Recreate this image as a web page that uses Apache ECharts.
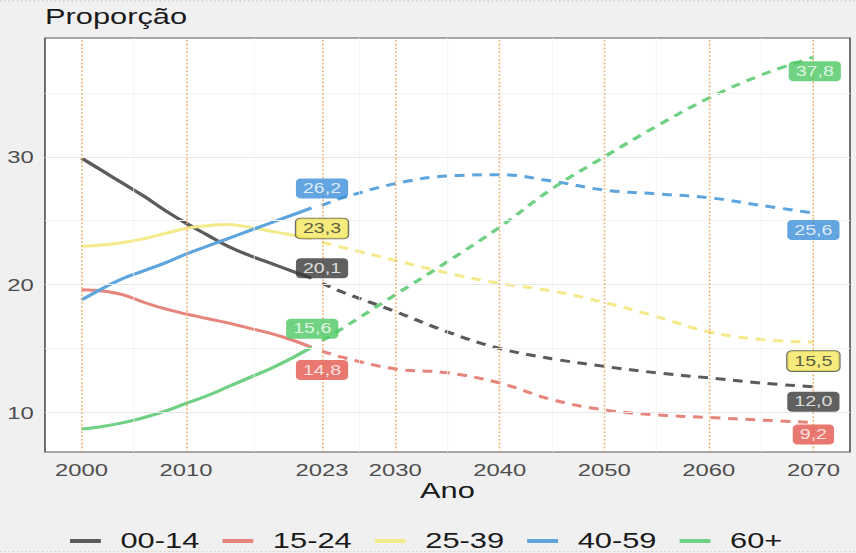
<!DOCTYPE html>
<html>
<head>
<meta charset="UTF-8">
<title>Proporção por grupo etário</title>
<script type="text/javascript" src="https://cdn.jsdelivr.net/npm/echarts@6/dist/echarts.min.js"></script>
<style>
html, body { margin:0; padding:0; background:#f0f0f0; overflow:hidden; }
#box { width:611px; height:553px; transform:scaleX(1.401); transform-origin:0 0; }
</style>
</head>
<body>
<div id="box"></div>
<script type="text/javascript">
// grupos etarios e anos
var grupos = ['00-14', '15-24', '25-39', '40-59', '60+'];
var anosHist = [2000, 2002, 2004, 2006, 2008, 2010, 2012, 2014, 2016, 2018, 2020, 2022];
var anosProj = [2023, 2025, 2030, 2035, 2040, 2045, 2050, 2055, 2060, 2065, 2070];

// valores observados (%)
var hist0014 = [29.9, 28.9, 27.9, 26.9, 25.8, 24.8, 23.9, 23.0, 22.3, 21.7, 21.1, 20.5];
var hist1524 = [19.6, 19.5, 19.2, 18.6, 18.1, 17.7, 17.35, 17.0, 16.6, 16.2, 15.7, 15.1];
var hist2539 = [23.0, 23.1, 23.3, 23.6, 24.0, 24.4, 24.6, 24.7, 24.5, 24.2, 23.9, 23.6];
var hist4059 = [18.8, 19.7, 20.5, 21.1, 21.7, 22.4, 23.0, 23.6, 24.2, 24.8, 25.4, 26.0];
var hist60 = [8.7, 8.9, 9.2, 9.6, 10.1, 10.7, 11.3, 12.0, 12.7, 13.4, 14.2, 15.1];

// projecoes (%)
var proj0014 = [20.1, 19.4, 17.9, 16.3, 15.0, 14.2, 13.6, 13.1, 12.7, 12.3, 12.0];
var proj1524 = [14.8, 14.3, 13.4, 13.1, 12.3, 11.0, 10.2, 9.8, 9.6, 9.4, 9.2];
var proj2539 = [23.3, 22.9, 21.9, 20.9, 20.1, 19.5, 18.6, 17.5, 16.3, 15.7, 15.5];
var proj4059 = [26.2, 26.8, 27.9, 28.5, 28.6, 28.1, 27.4, 27.1, 26.8, 26.2, 25.6];
var proj60 = [15.6, 16.6, 19.2, 21.8, 24.5, 27.5, 30.0, 32.4, 34.6, 36.4, 37.8];

// ticks
var xBreaks = [2000, 2010, 2023, 2030, 2040, 2050, 2060, 2070];
var yBreaks = [10, 20, 30];
var yMinor = [15, 25, 35];

var hist = [hist0014, hist1524, hist2539, hist4059, hist60];
var proj = [proj0014, proj1524, proj2539, proj4059, proj60];

var corLinha = ['#5b5b5b', '#e5857c', '#f4e98b', '#5ea5dd', '#70d184'];
var corCaixa = ['#383838', '#e4574c', '#f4e65c', '#3b8fd9', '#4cc862'];
var corTexto = ['#fff', '#fff', '#333', '#fff', '#fff'];
var desloc = [
	[[0, -15], [0, 15]],
	[[0, 19], [0, 12]],
	[[0, -14], [0, 19]],
	[[0, -17], [0, 17]],
	[[-7, -12], [1, 14]]
];
var fonte = "'Liberation Sans', Arial, sans-serif";

function zip(xs, ys) {
	return xs.map(function (x, i) { return [x, ys[i]]; });
}
function virgula(v) {
	return v.toFixed(1).replace('.', ',');
}

// linhas de grade e pontilhado laranja
var xMinor = [];
for (var i = 0; i < xBreaks.length - 1; i++) xMinor.push((xBreaks[i] + xBreaks[i + 1]) / 2);
var grade = [];
yMinor.forEach(function (v) { grade.push({ yAxis: v, lineStyle: { color: '#f3f3f3', width: 0.8, type: 'solid' } }); });
xMinor.forEach(function (v) { grade.push({ xAxis: v, lineStyle: { color: '#f3f3f3', width: 0.7, type: 'solid' } }); });
yBreaks.forEach(function (v) { grade.push({ yAxis: v, lineStyle: { color: '#e8e8e8', width: 1, type: 'solid' } }); });
xBreaks.forEach(function (v) { grade.push({ xAxis: v, lineStyle: { color: '#eda55e', width: 1.1, type: [1.6, 2.2] } }); });

var series = [{
	type: 'line',
	data: [],
	silent: true,
	z: 1,
	markLine: { silent: true, symbol: ['none', 'none'], label: { show: false }, animation: false, data: grade }
}];

grupos.forEach(function (g, k) {
	series.push({
		name: g, type: 'line', data: zip(anosHist, hist[k]), smooth: 0.4, symbol: 'none', z: 3,
		itemStyle: { color: corLinha[k] },
		lineStyle: { color: corLinha[k], width: 3 }
	});
	series.push({
		name: g, type: 'line', data: zip(anosProj, proj[k]), smooth: 0.4, symbol: 'none', z: 3,
		itemStyle: { color: corLinha[k] },
		lineStyle: { color: corLinha[k], width: 3, type: [7, 5.5] }
	});
	var p = proj[k];
	var estilo = {
		show: true, position: 'inside', formatter: function (d) { return virgula(d.value[1]); },
		color: corTexto[k], fontFamily: fonte, fontSize: 14,
		backgroundColor: corCaixa[k], borderRadius: 3.5, padding: [3, 5, 3, 5],
		borderColor: k === 2 ? '#444' : corCaixa[k], borderWidth: k === 2 ? 0.8 : 0
	};
	series.push({
		type: 'scatter', symbolSize: 1, silent: true, z: 10,
		itemStyle: { color: 'rgba(0,0,0,0)' },
		data: [
			{ value: [anosProj[0], p[0]], label: Object.assign({}, estilo, { offset: desloc[k][0] }) },
			{ value: [anosProj[p.length - 1], p[p.length - 1]], label: Object.assign({}, estilo, { offset: desloc[k][1] }) }
		]
	});
});

var mychart = echarts.init(document.getElementById('box'), null, { renderer: 'svg' });
var option = {
	backgroundColor: '#f0f0f0',
	animation: false,
	grid: { left: 32.1, right: 4.3, top: 38, bottom: 101, show: true, backgroundColor: '#fff', borderColor: '#555', borderWidth: 1.2 },
	xAxis: {
		type: 'value', min: 1996.5, max: 2073.5,
		axisLine: { show: false }, axisTick: { show: false }, splitLine: { show: false },
		axisLabel: { customValues: xBreaks, color: '#4d4d4d', fontSize: 17, fontFamily: fonte, margin: 9, formatter: function (v) { return String(v); } }
	},
	yAxis: {
		type: 'value', min: 6.9, max: 39.3,
		axisLine: { show: false }, axisTick: { show: false }, splitLine: { show: false },
		axisLabel: { customValues: yBreaks, color: '#4d4d4d', fontSize: 17, fontFamily: fonte, margin: 8 }
	},
	legend: {
		data: grupos, left: 45, top: 525, icon: 'rect', itemWidth: 22, itemHeight: 4, itemGap: 16.5,
		textStyle: { fontSize: 22, fontFamily: fonte, color: '#1a1a1a', padding: [0, 0, 0, 9] }
	},
	graphic: [
		{ type: 'text', left: 32.1, top: 6, style: { text: 'Proporção', fontSize: 22, fontFamily: fonte, fill: '#1a1a1a' } },
		{ type: 'text', x: 319.4, y: 491, style: { text: 'Ano', fontSize: 22, fontFamily: fonte, fill: '#1a1a1a', align: 'center', verticalAlign: 'middle' } },
		{ type: 'line', shape: { x1: 0, y1: 1, x2: 611, y2: 1 }, style: { stroke: '#bbb', lineWidth: 1, lineDash: [1, 2] } },
		{ type: 'line', shape: { x1: 0, y1: 551.5, x2: 611, y2: 551.5 }, style: { stroke: '#ccc', lineWidth: 1, lineDash: [1, 2] } }
	],
	series: series
};
mychart.setOption(option);
</script>
</body>
</html>
